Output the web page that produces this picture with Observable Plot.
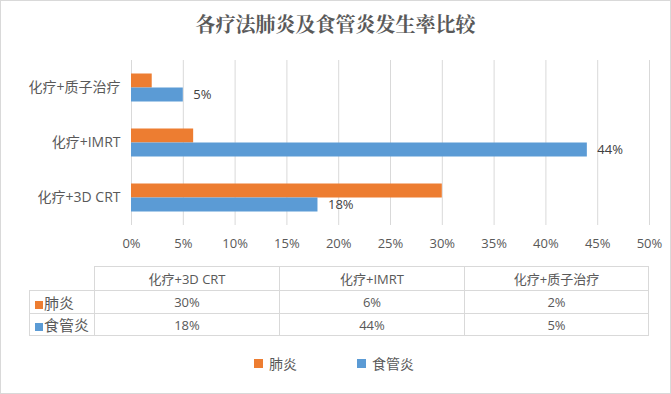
<!DOCTYPE html>
<html>
<head>
<meta charset="utf-8">
<script src="https://cdn.jsdelivr.net/npm/d3@7"></script>
<script src="https://cdn.jsdelivr.net/npm/@observablehq/plot@0.6"></script>
<style>
  body { margin: 0; background: #fff; }
  #wrap { position: relative; width: 671px; height: 394px; overflow: hidden; background: #fff;
          font-family: "Open Sans", "Noto Sans CJK SC", sans-serif; color: #595959; }
  #frame { position: absolute; left: 0; top: 0; width: 671px; height: 394px; box-sizing: border-box;
           border: 1px solid #d9d9d9; pointer-events: none; }
  #title { position: absolute; left: 0; top: 14px; width: 671px; text-align: center;
           font-family: "Noto Serif CJK SC", "Noto Sans CJK SC", serif; font-weight: bold;
           font-size: 20px; line-height: 20px; color: #595959; }
  #chart { position: absolute; left: 0; top: 0; }
  #tbl { position: absolute; left: 29px; top: 266px; border-collapse: collapse; table-layout: fixed; }
  #tbl td { border: 1px solid #d9d9d9; padding: 0; text-align: center; font-size: 13px;
            color: #595959; white-space: nowrap; overflow: hidden; }
  #tbl td.empty { border-top: none; border-left: none; }
  #tbl td.lab { text-align: left; font-size: 15px; padding-left: 5px; }
  .sw { display: inline-block; width: 8px; height: 8px; margin-right: 1px; vertical-align: 0px; }
  #legend { position: absolute; top: 353px; left: 0; width: 671px; height: 20px; font-size: 14px; }
  .li { position: absolute; top: 0; display: flex; align-items: center; height: 20px; }
  .li .sq { width: 9px; height: 9px; margin-right: 6px; }
</style>
</head>
<body>
<div id="wrap">
  <div id="title"></div>
  <div id="chart"></div>
  <table id="tbl"></table>
  <div id="legend"></div>
  <div id="frame"></div>
</div>
<script>
const title = "各疗法肺炎及食管炎发生率比较";
const categories = ["化疗+3D CRT", "化疗+IMRT", "化疗+质子治疗"];
const seriesNames = ["肺炎", "食管炎"];
const pneumonia = [30, 6, 2];
const esophagitis = [18, 44, 5];
const xTicks = [0, 5, 10, 15, 20, 25, 30, 35, 40, 45, 50];
const colors = ["#ED7D31", "#5B9BD5"];

document.getElementById("title").textContent = title;

const rows = categories.flatMap((c, i) => [
  {category: c, series: seriesNames[0], value: pneumonia[i]},
  {category: c, series: seriesNames[1], value: esophagitis[i]}
]);
const pct = d => d + "%";

const chart = Plot.plot({
  width: 671,
  height: 262,
  marginTop: 60,
  marginBottom: 37,
  marginLeft: 131,
  marginRight: 22,
  style: {fontFamily: '"Open Sans", "Noto Sans CJK SC", sans-serif', fontSize: "13px", color: "#595959", background: "transparent"},
  x: {domain: [0, 50], label: null},
  y: {domain: categories.slice().reverse(), padding: 0, label: null},
  color: {domain: seriesNames, range: colors},
  marks: [
    Plot.gridX(xTicks, {stroke: "#d9d9d9", strokeOpacity: 1, strokeWidth: 1}),
    Plot.barX(rows.filter(d => d.series === seriesNames[0]), {x: "value", y: "category", fill: "series", insetTop: 13.5, insetBottom: 27.5}),
    Plot.barX(rows.filter(d => d.series === seriesNames[1]), {x: "value", y: "category", fill: "series", insetTop: 27.5, insetBottom: 13.5}),
    Plot.text(rows.filter(d => d.series === seriesNames[1]), {x: "value", y: "category", text: d => pct(d.value), dx: 10, dy: 7, textAnchor: "start", fill: "#404040", fontSize: 13}),
    Plot.axisX({ticks: xTicks, tickFormat: pct, tickSize: 0, tickPadding: 13, label: null, fontSize: 13, fill: "#595959"}),
    Plot.axisY({tickSize: 0, tickPadding: 11, label: null, fontSize: 14, fill: "#595959"})
  ]
});
document.getElementById("chart").appendChild(chart);

// data table
const tbl = document.getElementById("tbl");
const colW = [65, 185, 185, 184];
const cg = document.createElement("colgroup");
colW.forEach(w => { const c = document.createElement("col"); c.style.width = w + "px"; cg.appendChild(c); });
tbl.appendChild(cg);
const hr = tbl.insertRow();
hr.style.height = "24px";
const e = hr.insertCell(); e.className = "empty";
categories.forEach(c => { const td = hr.insertCell(); td.textContent = c; });
[pneumonia, esophagitis].forEach((vals, si) => {
  const r = tbl.insertRow();
  r.style.height = si === 0 ? "23px" : "22px";
  const l = r.insertCell(); l.className = "lab";
  l.innerHTML = `<span class="sw" style="background:${colors[si]}"></span>${seriesNames[si]}`;
  vals.forEach(v => { const td = r.insertCell(); td.textContent = pct(v); });
});

// legend
const lg = document.getElementById("legend");
const lx = [254, 357];
seriesNames.forEach((s, i) => {
  const it = document.createElement("div");
  it.className = "li";
  it.style.left = lx[i] + "px";
  it.innerHTML = `<span class="sq" style="background:${colors[i]}"></span><span>${s}</span>`;
  lg.appendChild(it);
});
</script>
</body>
</html>
